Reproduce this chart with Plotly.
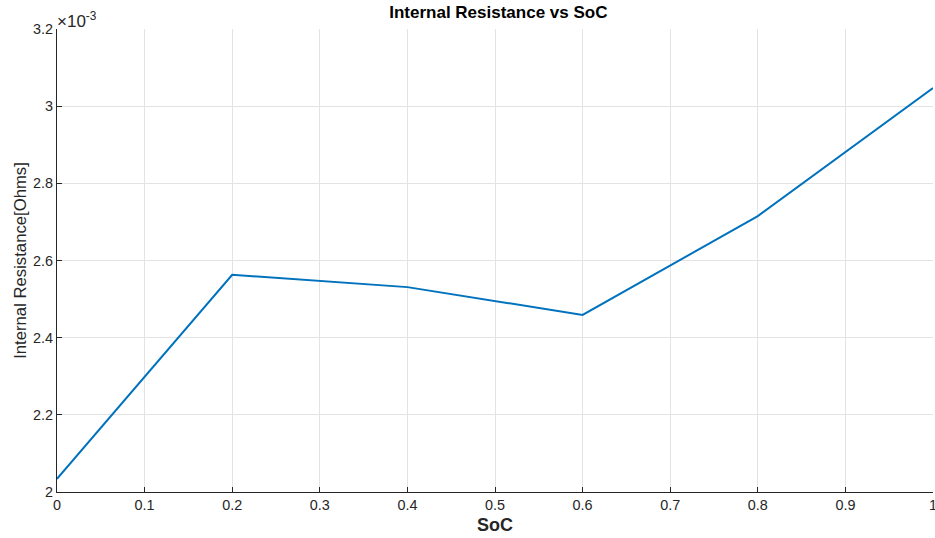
import plotly.graph_objects as go

soc = [0.0, 0.2, 0.4, 0.6, 0.8, 1.0]
resistance = [2.034e-3, 2.563e-3, 2.531e-3, 2.459e-3, 2.715e-3, 3.047e-3]
x_ticks = [0, 0.1, 0.2, 0.3, 0.4, 0.5, 0.6, 0.7, 0.8, 0.9, 1.0]
x_tick_labels = ["0", "0.1", "0.2", "0.3", "0.4", "0.5", "0.6", "0.7", "0.8", "0.9", "1"]
y_ticks = [2.0e-3, 2.2e-3, 2.4e-3, 2.6e-3, 2.8e-3, 3.0e-3, 3.2e-3]
y_tick_labels = ["2", "2.2", "2.4", "2.6", "2.8", "3", "3.2"]

FONT = "Liberation Sans, Arial, sans-serif"
AX = "#262626"
GRID = "#e3e3e3"

fig = go.Figure()
fig.add_trace(go.Scatter(x=soc, y=resistance, mode="lines",
                         line=dict(color="#0072BD", width=2), showlegend=False))

fig.update_layout(
    width=935, height=538,
    margin=dict(l=57, r=2, t=29, b=46),
    paper_bgcolor="white", plot_bgcolor="white",
    font=dict(family=FONT, color=AX, size=14),
    title=dict(text="<b>Internal Resistance vs SoC</b>", x=0.533, xanchor="center",
               y=0.977, yanchor="middle", font=dict(size=17, color="black", family=FONT)),
)
fig.update_xaxes(range=[0, 1], tickvals=x_ticks, ticktext=x_tick_labels,
                 showgrid=True, gridcolor=GRID, gridwidth=1, zeroline=False,
                 showline=True, linecolor=AX, linewidth=1, automargin=False,
                 ticks="inside", ticklen=5, tickcolor=AX, ticklabeloverflow="allow",
                 tickfont=dict(size=14.4, color=AX, family=FONT),
                 title=dict(text="<b>SoC</b>", font=dict(size=18, color=AX, family=FONT), standoff=6))
fig.update_yaxes(range=[2.0e-3, 3.2e-3], tickvals=y_ticks, ticktext=y_tick_labels,
                 showgrid=True, gridcolor=GRID, gridwidth=1, zeroline=False,
                 showline=True, linecolor=AX, linewidth=1, automargin=False,
                 ticks="inside", ticklen=5, tickcolor=AX,
                 tickfont=dict(size=14.4, color=AX, family=FONT),
                 title=dict(text="Internal Resistance[Ohms]", font=dict(size=16.7, color=AX, family=FONT), standoff=2))
fig.add_annotation(text="×10<sup>-3</sup>", xref="paper", yref="paper", x=0, y=1,
                   xanchor="left", yanchor="bottom", showarrow=False, xshift=-2, yshift=-4,
                   font=dict(size=17, color=AX, family=FONT))
fig.write_html("out.html")
